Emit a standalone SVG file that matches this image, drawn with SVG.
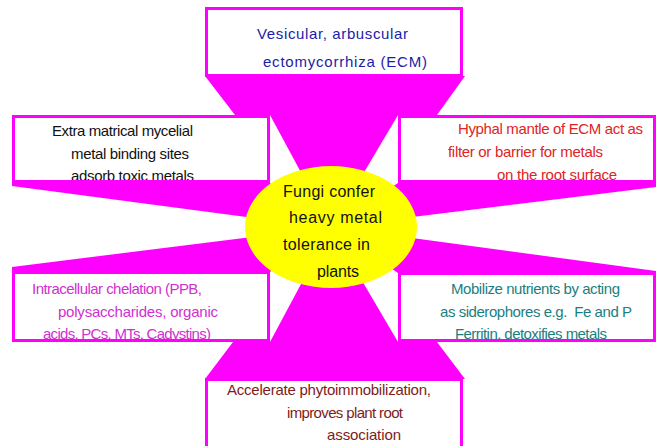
<svg xmlns="http://www.w3.org/2000/svg" width="656" height="446" viewBox="0 0 656 446">
<style>
.ray{fill:#ff00ff;stroke:none}
.bfill{fill:#ffffff;stroke:none}
.frame{fill:none;stroke:#ff00ff;stroke-width:3}
.vline{stroke:#ff00ff;stroke-width:3}
text{font-family:"Liberation Sans",Arial,sans-serif;font-size:15px}
.big{font-size:16px}
.blue{fill:#1c1ca8}
.black{fill:#111111}
.red{fill:#e02424}
.mag{fill:#d030d0}
.teal{fill:#1a7f7f}
.maroon{fill:#7e1c1c}
</style>
<rect width="656" height="446" fill="#ffffff"/>
<g id="connectors">
<polygon class="ray" points="205,76 465,76 437,115 235,115"/>
<polygon class="ray" points="270,115 398,115 331,228"/>
<polygon class="ray" points="233,342 437,342 465,379 205,379"/>
<polygon class="ray" points="270,342 398,342 331,228"/>
<polygon class="ray" points="12,183 270,183 331,228 12,186"/>
<polygon class="ray" points="12,267 331,227 270,272 12,272"/>
<polygon class="ray" points="398,183 656,183 656,187 331,227"/>
<polygon class="ray" points="656,271 331,227 398,273 656,273"/>
<line class="vline" x1="268.5" y1="115" x2="268.5" y2="342"/>
<line class="vline" x1="399.5" y1="115" x2="399.5" y2="342"/>
</g>
<g id="node-top">
<rect class="bfill" x="206.5" y="8.5" width="255" height="67"/>
<text class="blue" x="257" y="39" textLength="151">Vesicular, arbuscular</text>
<text class="blue" x="263" y="67" textLength="164">ectomycorrhiza (ECM)</text>
<rect class="frame" x="206.5" y="8.5" width="255" height="67"/>
</g>
<g id="node-left-top">
<rect class="bfill" x="13.5" y="116.5" width="255" height="65"/>
<text class="black" x="52" y="136" textLength="141">Extra matrical mycelial</text>
<text class="black" x="71" y="159" textLength="118">metal binding sites</text>
<text class="black" x="71" y="181" textLength="123">adsorb toxic metals</text>
<rect class="frame" x="13.5" y="116.5" width="255" height="65"/>
</g>
<g id="node-right-top">
<rect class="bfill" x="399.5" y="116.5" width="255" height="65"/>
<text class="red" x="458" y="134" textLength="185">Hyphal mantle of ECM act as</text>
<text class="red" x="448" y="157" textLength="155">filter or barrier for metals</text>
<text class="red" x="497" y="180" textLength="120">on the root surface</text>
<rect class="frame" x="399.5" y="116.5" width="255" height="65"/>
</g>
<g id="node-left-bottom">
<rect class="bfill" x="13.5" y="272.5" width="255" height="68"/>
<text class="mag" x="32" y="294" textLength="170">Intracellular chelation (PPB,</text>
<text class="mag" x="58" y="317" textLength="160">polysaccharides, organic</text>
<text class="mag" x="43" y="339" textLength="168">acids, PCs, MTs, Cadystins)</text>
<rect class="frame" x="13.5" y="272.5" width="255" height="68"/>
</g>
<g id="node-right-bottom">
<rect class="bfill" x="399.5" y="273.5" width="255" height="67"/>
<text class="teal" x="451" y="294" textLength="169">Mobilize nutrients by acting</text>
<text class="teal" x="440" y="317" textLength="192" xml:space="preserve">as siderophores e.g.  Fe and P</text>
<text class="teal" x="455" y="339" textLength="152">Ferritin, detoxifies metals</text>
<rect class="frame" x="399.5" y="273.5" width="255" height="67"/>
</g>
<g id="node-bottom">
<rect class="bfill" x="206.5" y="379.5" width="255" height="80"/>
<text class="maroon" x="227" y="395" textLength="204">Accelerate phytoimmobilization,</text>
<text class="maroon" x="287" y="418" textLength="116">improves plant root</text>
<text class="maroon" x="327" y="440" textLength="74">association</text>
<rect class="frame" x="206.5" y="379.5" width="255" height="80"/>
</g>
<g id="node-center">
<ellipse cx="331" cy="227" rx="86" ry="61" fill="#ffff00"/>
<text class="black big" x="283" y="197" textLength="92">Fungi confer</text>
<text class="black big" x="289" y="223" textLength="93">heavy metal</text>
<text class="black big" x="283" y="250" textLength="87">tolerance in</text>
<text class="black big" x="317" y="277" textLength="42">plants</text>
</g>
</svg>
